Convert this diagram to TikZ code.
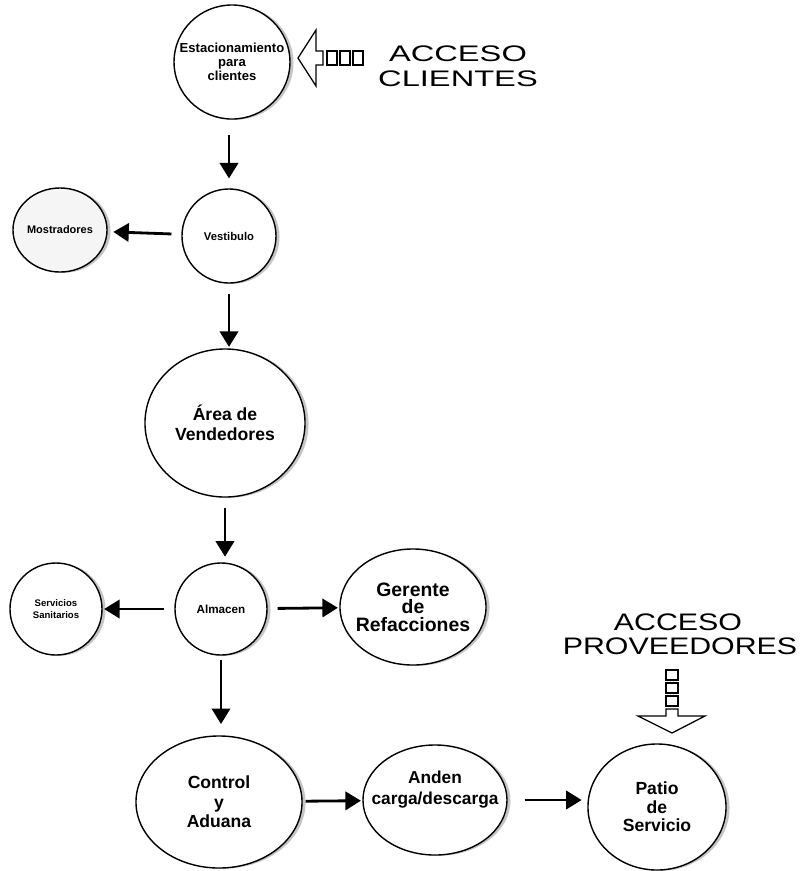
\documentclass[tikz,border=0pt]{standalone}
\usepackage{fontspec}
\setmainfont{Liberation Sans}
\usetikzlibrary{shapes.geometric,arrows.meta,shadows}
\newcommand\roomfont[2]{\bfseries\fontsize{#1}{#2}\selectfont}
\tikzset{
  room/.style={ellipse,draw,line width=1pt,fill=white,inner sep=-30pt,align=center,
    drop shadow={shadow xshift=2.5pt,shadow yshift=-0.5pt,fill=black!45}},
  rxy/.style 2 args={minimum width=#1*0.05cm,minimum height=#2*0.05cm},
}

\begin{document}
\begin{tikzpicture}[x=0.025cm,y=-0.025cm,
  flow/.style={line width=2pt,-{Triangle[length=11pt,width=13pt]},shorten <=7pt,shorten >=4pt},
  gate/.style={line width=0.9pt},
  cbig/.style={anchor=base,font=\fontsize{16}{18}\selectfont},
  pbig/.style={anchor=base,font=\fontsize{17}{19}\selectfont}]
  \useasboundingbox (0,0) rectangle (808,871);
  % rooms
  \node[room,rxy={58}{57},font=\roomfont{9.3}{9.8}] (estac) at (232,62) {Estacionamiento\\para\\clientes};
  \node[room,rxy={47}{47},font=\roomfont{8}{9}] (vest) at (229,236) {Vestibulo};
  \node[room,rxy={47}{42},font=\roomfont{7.8}{9},fill=black!4] (most) at (60,230) {Mostradores};
  \node[room,rxy={80}{74},font=\roomfont{12.5}{14.5}] (area) at (225,423) {Área de\\Vendedores};
  \node[room,rxy={46}{46},font=\roomfont{8.3}{9}] (alm) at (221,609) {Almacen};
  \node[room,rxy={46}{46},font=\roomfont{6.8}{8}] (serv) at (56,609) {Servicios\\Sanitarios};
  \node[room,rxy={73}{58},font=\roomfont{13.8}{12.5}] (ger) at (413,607) {Gerente\\de\\Refacciones};
  \node[room,rxy={83}{66},font=\roomfont{12.5}{14}] (ctrl) at (219,802) {Control\\y\\Aduana};
  \node[room,rxy={72}{55},font=\roomfont{12.3}{15}] (anden) at (435,800) {Anden\\carga/descarga\\[2pt]};
  \node[room,rxy={69}{63},font=\roomfont{12.5}{13.2}] (patio) at (657,807) {Patio\\de\\Servicio};
  % accesses
  \node[cbig] (cliA) at (458,61) {\scalebox{1.45}[1]{ACCESO}};
  \node[cbig] (cliB) at (458,86) {\scalebox{1.45}[1]{CLIENTES}};
  \node[pbig] (provA) at (678,630) {\scalebox{1.27}[1]{ACCESO}};
  \node[pbig] (provB) at (680,654) {\scalebox{1.27}[1]{PROVEEDORES}};
  \draw[gate] (298,58) -- (316,30) -- (316,51) -- (323,51) -- (323,65) -- (316,65) -- (316,86) -- cycle;
  \foreach \x in {327,340,353} \draw[gate] (\x,51) rectangle ++(10,14);
  \foreach \y in {670,683,696} \draw[gate] (666,\y) rectangle ++(12,10);
  \draw[gate] (666,709) -- (666,716) -- (638,716) -- (672,733) -- (705,716) -- (678,716) -- (678,709) -- cycle;
  % flows
  \draw[flow,shorten <=11pt,shorten >=7pt] (estac.south -| vest) -- (vest);
  \draw[flow] (vest) -- (most);
  \draw[flow,shorten >=1pt] (vest) -- (vest |- area.north);
  \draw[flow] (area) -- (area |- alm.north);
  \draw[flow,shorten >=1pt] (alm) -- (serv);
  \draw[flow,shorten >=1pt] (alm) -- (ger);
  \draw[flow,shorten <=3pt,shorten >=8pt] (alm) -- (alm |- ctrl.north);
  \draw[flow,shorten <=2pt,shorten >=1pt] (ctrl) -- (anden);
  \draw[flow,shorten <=12pt] (anden) -- (anden -| patio.west);
\end{tikzpicture}
\end{document}
